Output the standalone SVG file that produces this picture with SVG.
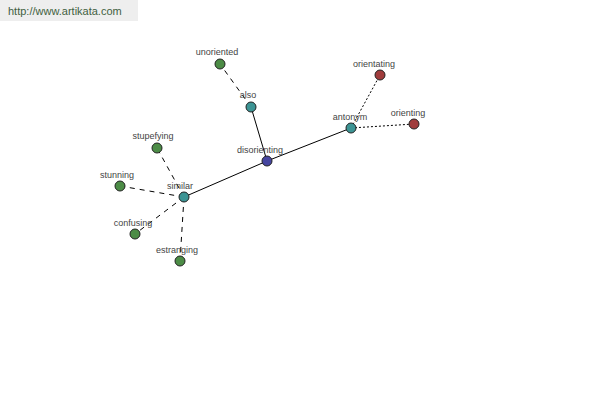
<svg xmlns="http://www.w3.org/2000/svg" width="600" height="400" viewBox="0 0 600 400">
<style>
.lbl{font-family:"Liberation Sans",Arial,sans-serif;font-size:9px;fill:#444;text-anchor:middle}
.n{stroke:#222;stroke-width:1}
.g{fill:#4c8c46}.t{fill:#3c9494}.b{fill:#4646a0}.r{fill:#a03c3c}
.solid{stroke:#000;stroke-width:1;fill:none}
.dash{stroke:#000;stroke-width:1;stroke-dasharray:5,5;fill:none}
.dot{stroke:#000;stroke-width:1;stroke-dasharray:2,2;fill:none}
</style>
<rect width="600" height="400" fill="#fff"/>
<rect x="0" y="0" width="138" height="21" fill="#eeeeee"/>
<text x="8" y="15" font-family="'Liberation Sans',Arial,sans-serif" font-size="11" fill="#3f5f3f">http://www.artikata.com</text>
<g id="connectors">
<line class="solid" x1="267" y1="161" x2="184" y2="197"/>
<line class="solid" x1="267" y1="161" x2="251" y2="107"/>
<line class="solid" x1="267" y1="161" x2="351" y2="128"/>
<line class="dash" x1="251" y1="107" x2="220" y2="64"/>
<line class="dot" x1="351" y1="128" x2="380" y2="75"/>
<line class="dot" x1="351" y1="128" x2="414" y2="124"/>
<line class="dash" x1="184" y1="197" x2="157" y2="148"/>
<line class="dash" x1="184" y1="197" x2="120" y2="186"/>
<line class="dash" x1="184" y1="197" x2="135" y2="234"/>
<line class="dash" x1="184" y1="197" x2="180" y2="261"/>
</g>
<g id="unoriented"><circle class="n g" cx="220" cy="64" r="5"/><text class="lbl" x="217" y="55">unoriented</text></g>
<g id="also"><circle class="n t" cx="251" cy="107" r="5"/><text class="lbl" x="248" y="98">also</text></g>
<g id="disorienting"><circle class="n b" cx="267" cy="161" r="5"/><text class="lbl" x="260" y="153">disorienting</text></g>
<g id="antonym"><circle class="n t" cx="351" cy="128" r="5"/><text class="lbl" x="350" y="120">antonym</text></g>
<g id="orientating"><circle class="n r" cx="380" cy="75" r="5"/><text class="lbl" x="374" y="67">orientating</text></g>
<g id="orienting"><circle class="n r" cx="414" cy="124" r="5"/><text class="lbl" x="408" y="116">orienting</text></g>
<g id="similar"><circle class="n t" cx="184" cy="197" r="5"/><text class="lbl" x="180" y="189">similar</text></g>
<g id="stupefying"><circle class="n g" cx="157" cy="148" r="5"/><text class="lbl" x="153" y="139">stupefying</text></g>
<g id="stunning"><circle class="n g" cx="120" cy="186" r="5"/><text class="lbl" x="117" y="178">stunning</text></g>
<g id="confusing"><circle class="n g" cx="135" cy="234" r="5"/><text class="lbl" x="133" y="226">confusing</text></g>
<g id="estranging"><circle class="n g" cx="180" cy="261" r="5"/><text class="lbl" x="177" y="253">estranging</text></g>
</svg>
